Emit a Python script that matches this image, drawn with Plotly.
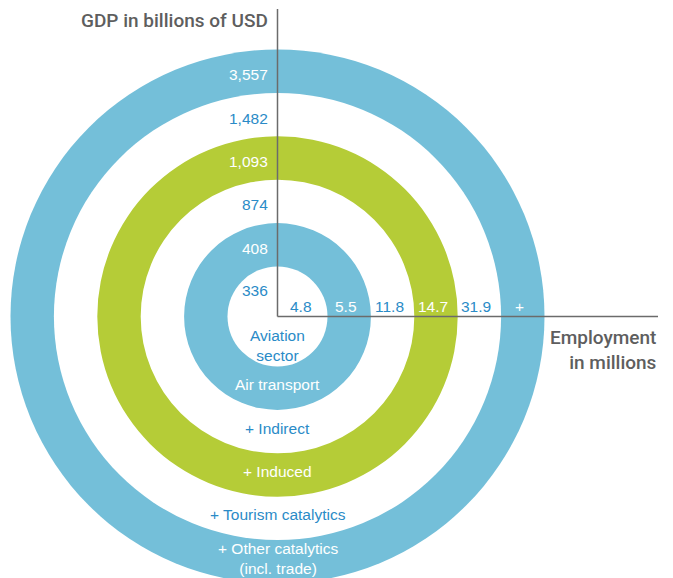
import numpy as np
import plotly.graph_objects as go

# bands from the centre outwards
bands = ["Aviation<br>sector", "Air transport", "+ Indirect", "+ Induced",
         "+ Tourism catalytics", "+ Other catalytics<br>(incl. trade)"]
gdp = ["336", "408", "874", "1,093", "1,482", "3,557"]          # billions of USD
employment = ["4.8", "5.5", "11.8", "14.7", "31.9", "+"]        # millions
band_colors = ["white", "#74bfd9", "white", "#b5cc37", "white", "#74bfd9"]

W, H = 673, 578
CX, CY = 277.5, 316.5          # centre in pixels from top-left
R0, STEP = 50, 43.4            # radius of inner disk, ring width

BLUE_TXT = "#2a8bc7"
GREY = "#5e5e5e"
FONT = "Liberation Sans, Arial, sans-serif"
FS = 15.5

outer = [R0 + STEP * i for i in range(len(bands))]
inner = [0] + outer[:-1]
label_r = [26] + [(a + b) / 2 - 3.5 for a, b in zip(inner[1:], outer[1:])]
txt_col = [BLUE_TXT if c == "white" else "white" for c in band_colors]

fig = go.Figure()

shapes = []
for r, c in reversed(list(zip(outer, band_colors))):
    shapes.append(dict(type="circle", xref="x", yref="y", x0=-r, x1=r, y0=-r, y1=r,
                       fillcolor=c, line=dict(width=0), layer="below"))

# axes
shapes.append(dict(type="line", xref="x", yref="y", x0=0, x1=0, y0=0, y1=CY - 9,
                   line=dict(color="#6b6b6b", width=1.5)))
shapes.append(dict(type="line", xref="x", yref="y", x0=0, x1=658 - CX, y0=0, y1=0,
                   line=dict(color="#6b6b6b", width=1.5)))

annotations = []
for i in range(len(bands)):
    annotations.append(dict(x=-8, y=label_r[i], text=gdp[i], xanchor="right", yanchor="middle",
                            showarrow=False, font=dict(size=FS, color=txt_col[i], family=FONT)))
    ex = 23.5 if i == 0 else label_r[i]
    annotations.append(dict(x=ex, y=10, text=employment[i], xanchor="center", yanchor="middle",
                            showarrow=False, font=dict(size=FS, color=txt_col[i], family=FONT)))
    by = -29 if i == 0 else -label_r[i]
    annotations.append(dict(x=0, y=by, text=bands[i], xanchor="center", yanchor="middle",
                            showarrow=False, font=dict(size=FS, color=txt_col[i], family=FONT)))

TITLE_FONT = dict(size=19, color=GREY, family="Roboto, Liberation Sans, sans-serif", weight=500)
annotations.append(dict(x=-8, y=CY - 20, text="GDP in billions of USD", xanchor="right",
                        yanchor="middle", showarrow=False, font=TITLE_FONT))
annotations.append(dict(x=658 - CX, y=-33, text="Employment<br>in millions", xanchor="right",
                        yanchor="middle", align="right", showarrow=False, font=TITLE_FONT))

fig.add_trace(go.Scatter(x=[0], y=[0], mode="markers", marker=dict(opacity=0),
                         hoverinfo="skip", showlegend=False))

fig.update_layout(
    width=W, height=H,
    margin=dict(l=0, r=0, t=0, b=0),
    paper_bgcolor="white", plot_bgcolor="white",
    xaxis=dict(range=[-CX, W - CX], visible=False, fixedrange=True),
    yaxis=dict(range=[CY - H, CY], visible=False, fixedrange=True),
    shapes=shapes,
    annotations=annotations,
    showlegend=False,
)

fig.write_html("out.html", config={"displayModeBar": False},
               post_script="document.body.style.margin='0';document.body.style.overflow='hidden';")
